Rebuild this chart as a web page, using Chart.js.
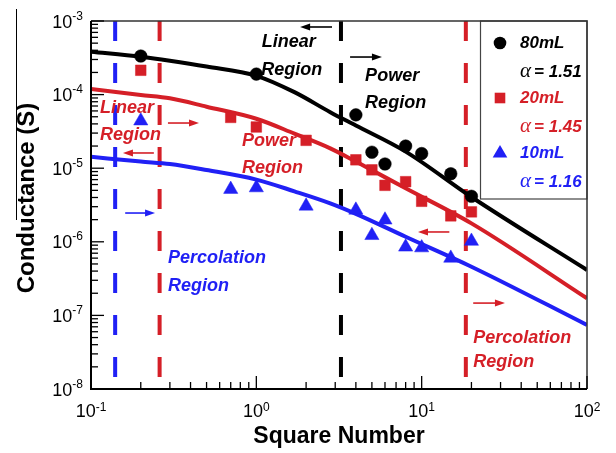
<!doctype html>
<html lang="en">
  <head>
    <meta charset="utf-8">
    <title>Conductance vs Square Number</title>
    <style>
      * {
        margin: 0;
        padding: 0;
      }
      body {
        background: #fff;
      }
      .chartBox {
        width: 616px;
        height: 453px;
      }
    </style>
  </head>
  <body>
    <div class="chartBox">
      <canvas id="myChart" width="616" height="453"></canvas>
    </div>
    <script src="https://cdn.jsdelivr.net/npm/chart.js"></script>
    <script>
    // fit curves
    const fitSquares = [0.1, 0.2, 0.3, 0.5, 1, 1.7, 2.8, 4, 8, 20, 100];
    const fit80 = [3.83e-4, 3.27e-4, 2.89e-4, 2.41e-4, 1.8e-4, 1.08e-4, 5.77e-5, 3.8e-5, 1.68e-5, 4.06e-6, 4.14e-7];
    const fit20 = [1.19e-4, 9.88e-5, 8.9e-5, 6.85e-5, 4.7e-5, 2.95e-5, 1.86e-5, 1.23e-5, 5.33e-6, 1.78e-6, 1.71e-7];
    const fit10 = [1.43e-5, 1.23e-5, 1.14e-5, 9.46e-6, 7.0e-6, 4.85e-6, 3.33e-6, 2.4e-6, 1.17e-6, 4.59e-7, 7.41e-8];

    // measured points
    const squares80 = [0.2, 1, 4, 5, 6, 8, 10, 15, 20];
    const cond80 = [3.34e-4, 1.9e-4, 5.3e-5, 1.65e-5, 1.14e-5, 2.0e-5, 1.58e-5, 8.4e-6, 4.15e-6];
    const squares20 = [0.2, 0.7, 1, 2, 4, 5, 6, 8, 10, 15, 20];
    const cond20 = [2.14e-4, 4.9e-5, 3.63e-5, 2.39e-5, 1.3e-5, 9.5e-6, 5.85e-6, 6.56e-6, 3.55e-6, 2.25e-6, 2.55e-6];
    const squares10 = [0.2, 0.7, 1, 2, 4, 5, 6, 8, 10, 15, 20];
    const cond10 = [4.4e-5, 5.17e-6, 5.43e-6, 3.06e-6, 2.7e-6, 1.22e-6, 1.98e-6, 8.5e-7, 8.3e-7, 6.0e-7, 1.02e-6];

    // region boundaries
    const boundaries = [0.14, 0.26, 3.25, 18.5];

    // axis ticks
    const xDecades = [0.1, 1, 10, 100];
    const xExps = ['-1', '0', '1', '2'];
    const yDecades = [1e-3, 1e-4, 1e-5, 1e-6, 1e-7, 1e-8];
    const yExps = ['-3', '-4', '-5', '-6', '-7', '-8'];

    // legend
    const seriesNames = ['80mL', '20mL', '10mL'];
    const alphaValues = ['1.51', '1.45', '1.16'];

    const RED = '#d51f27';
    const BLUE = '#2020f5';
    const BLACK = '#000000';
    const FONT = "'Liberation Sans', Arial, sans-serif";

    const pts = (xs, ys) => xs.map((x, i) => ({ x: x, y: ys[i] }));

    // text labels and arrows placed in data units
    const notes = [
      { t: 'Linear', x: 1.08, y: 5.19e-4, c: BLACK },
      { t: 'Region', x: 1.07, y: 2.16e-4, c: BLACK },
      { t: 'Power', x: 4.55, y: 1.79e-4, c: BLACK },
      { t: 'Region', x: 4.55, y: 7.69e-5, c: BLACK },
      { t: 'Linear', x: 0.1134, y: 6.58e-5, c: RED },
      { t: 'Region', x: 0.1134, y: 2.83e-5, c: RED },
      { t: 'Power', x: 0.819, y: 2.34e-5, c: RED },
      { t: 'Region', x: 0.819, y: 1.01e-5, c: RED },
      { t: 'Percolation', x: 20.5, y: 4.93e-8, c: RED },
      { t: 'Region', x: 20.5, y: 2.33e-8, c: RED },
      { t: 'Percolation', x: 0.292, y: 6.03e-7, c: BLUE },
      { t: 'Region', x: 0.292, y: 2.51e-7, c: BLUE }
    ];
    const arrows = [
      { from: 2.87, to: 1.84, y: 8.29e-4, c: BLACK },
      { from: 3.69, to: 5.75, y: 3.24e-4, c: BLACK },
      { from: 0.292, to: 0.45, y: 4.11e-5, c: RED },
      { from: 0.24, to: 0.156, y: 1.61e-5, c: RED },
      { from: 14.7, to: 9.5, y: 1.36e-6, c: RED },
      { from: 20.5, to: 31.9, y: 1.47e-7, c: RED },
      { from: 0.161, to: 0.244, y: 2.46e-6, c: BLUE }
    ];

    function drawArrow(ctx, x1, x2, y, color) {
      const dir = Math.sign(x2 - x1);
      ctx.save();
      ctx.strokeStyle = color;
      ctx.fillStyle = color;
      ctx.lineWidth = 1.6;
      ctx.beginPath();
      ctx.moveTo(x1, y);
      ctx.lineTo(x2 - dir * 5, y);
      ctx.stroke();
      ctx.beginPath();
      ctx.moveTo(x2, y);
      ctx.lineTo(x2 - dir * 10, y - 3.5);
      ctx.lineTo(x2 - dir * 10, y + 3.5);
      ctx.closePath();
      ctx.fill();
      ctx.restore();
    }

    // legend box, drawn under the data
    const legendBox = {
      id: 'legendBox',
      beforeDatasetsDraw(chart) {
        const ctx = chart.ctx;
        const a = chart.chartArea;
        const left = a.right - 107, top = a.top;
        ctx.save();
        ctx.fillStyle = '#fff';
        ctx.fillRect(left, top, 107, 178);
        ctx.strokeStyle = '#444';
        ctx.lineWidth = 1.2;
        ctx.strokeRect(left + 0.5, top, 106.5, 178);
        const colors = [BLACK, RED, BLUE];
        const mx = left + 20, tx = left + 40;
        colors.forEach((col, i) => {
          const y1 = top + 22 + i * 55;
          const y2 = y1 + 29;
          ctx.fillStyle = col;
          ctx.beginPath();
          if (i === 0) {
            ctx.arc(mx, y1, 6.3, 0, Math.PI * 2);
          } else if (i === 1) {
            ctx.rect(mx - 5.3, y1 - 5.3, 10.6, 10.6);
          } else {
            ctx.moveTo(mx, y1 - 8);
            ctx.lineTo(mx + 7.3, y1 + 4.5);
            ctx.lineTo(mx - 7.3, y1 + 4.5);
            ctx.closePath();
          }
          ctx.fill();
          ctx.textBaseline = 'middle';
          ctx.textAlign = 'left';
          ctx.font = 'bold italic 17px ' + FONT;
          ctx.fillText(seriesNames[i], tx, y1);
          ctx.font = "italic 21px 'Liberation Serif', 'Times New Roman', serif";
          ctx.fillText('\u03b1', tx, y2 - 1);
          const aw = ctx.measureText('\u03b1').width;
          ctx.font = 'bold italic 17px ' + FONT;
          ctx.fillText('= ' + alphaValues[i], tx + aw + 3, y2);
        });
        ctx.restore();
      }
    };

    // frame, inward ticks, tick labels, titles, annotations
    const decorations = {
      id: 'decorations',
      afterDraw(chart) {
        const ctx = chart.ctx;
        const a = chart.chartArea;
        const xs = chart.scales.x, ys = chart.scales.y;
        ctx.save();

        // stray border line at the left edge of the figure
        ctx.strokeStyle = '#000';
        ctx.lineWidth = 1;
        ctx.beginPath();
        ctx.moveTo(16.5, 9);
        ctx.lineTo(16.5, 220);
        ctx.stroke();

        // frame
        ctx.lineWidth = 1.5;
        ctx.strokeStyle = '#333';
        ctx.beginPath();
        ctx.moveTo(a.left, a.top);
        ctx.lineTo(a.right, a.top);
        ctx.lineTo(a.right, a.bottom);
        ctx.stroke();
        ctx.strokeStyle = '#000';
        ctx.lineWidth = 2;
        ctx.beginPath();
        ctx.moveTo(a.left, a.top);
        ctx.lineTo(a.left, a.bottom);
        ctx.lineTo(a.right, a.bottom);
        ctx.stroke();

        // ticks
        ctx.lineWidth = 1.3;
        xDecades.forEach((d, i) => {
          for (let k = 1; k <= 9; k++) {
            if (i === xDecades.length - 1 && k > 1) break;
            const px = xs.getPixelForValue(d * k);
            const len = k === 1 ? 13 : 7;
            ctx.beginPath();
            ctx.moveTo(px, a.bottom);
            ctx.lineTo(px, a.bottom - len);
            ctx.stroke();
          }
        });
        yDecades.forEach((d, i) => {
          for (let k = 1; k <= 9; k++) {
            if (i === 0 && k > 1) break;
            const py = ys.getPixelForValue(d * k);
            const len = k === 1 ? 13 : 7;
            ctx.beginPath();
            ctx.moveTo(a.left, py);
            ctx.lineTo(a.left + len, py);
            ctx.stroke();
          }
        });

        // tick labels with superscripts
        ctx.fillStyle = '#000';
        ctx.textBaseline = 'alphabetic';
        ctx.textAlign = 'left';
        const bigFont = '18px ' + FONT, supFont = '12px ' + FONT;
        const labelWidth = (e) => {
          ctx.font = bigFont;
          const w1 = ctx.measureText('10').width;
          ctx.font = supFont;
          return [w1, ctx.measureText(e).width];
        };
        yDecades.forEach((d, i) => {
          const py = ys.getPixelForValue(d);
          const [w1, w2] = labelWidth(yExps[i]);
          const x0 = a.left - 8 - w1 - w2;
          ctx.font = bigFont;
          ctx.fillText('10', x0, py + 6.5);
          ctx.font = supFont;
          ctx.fillText(yExps[i], x0 + w1, py - 1.5);
        });
        xDecades.forEach((d, i) => {
          const px = xs.getPixelForValue(d);
          const [w1, w2] = labelWidth(xExps[i]);
          const x0 = px - (w1 + w2) / 2;
          ctx.font = bigFont;
          ctx.fillText('10', x0, a.bottom + 28);
          ctx.font = supFont;
          ctx.fillText(xExps[i], x0 + w1, a.bottom + 22);
        });

        // axis titles
        ctx.textAlign = 'center';
        ctx.textBaseline = 'middle';
        ctx.font = 'bold 23px ' + FONT;
        ctx.fillText('Square Number', (a.left + a.right) / 2, 437);
        ctx.save();
        ctx.translate(27, 198);
        ctx.rotate(-Math.PI / 2);
        ctx.font = 'bold 24px ' + FONT;
        ctx.fillText('Conductance (S)', 0, 0);
        ctx.restore();

        // region notes
        ctx.textAlign = 'left';
        ctx.textBaseline = 'middle';
        ctx.font = 'bold italic 18px ' + FONT;
        notes.forEach(n => {
          ctx.fillStyle = n.c;
          ctx.fillText(n.t, xs.getPixelForValue(n.x), ys.getPixelForValue(n.y));
        });
        arrows.forEach(ar => {
          drawArrow(ctx, xs.getPixelForValue(ar.from), xs.getPixelForValue(ar.to), ys.getPixelForValue(ar.y), ar.c);
        });
        ctx.restore();
      }
    };

    const boundaryColors = [BLUE, RED, BLACK, RED];
    const boundarySets = boundaries.map((bx, i) => ({
      label: 'boundary ' + (i + 1),
      type: 'line',
      data: [{ x: bx, y: 1e-3 }, { x: bx, y: 1.46e-8 }],
      borderColor: boundaryColors[i],
      borderWidth: 4,
      borderDash: [20, 22],
      pointRadius: 0,
      order: 3
    }));

    const fitLine = (ys, color) => ({
      type: 'line',
      data: pts(fitSquares, ys),
      borderColor: color,
      borderWidth: 4,
      pointRadius: 0,
      cubicInterpolationMode: 'monotone',
      fill: false,
      order: 2
    });

    const markers = (xs, ys, color, style, r) => ({
      type: 'scatter',
      data: pts(xs, ys),
      backgroundColor: color,
      borderColor: color,
      pointStyle: style,
      pointRadius: r,
      pointBorderWidth: 0.5,
      showLine: false,
      order: 1
    });

    const data = {
      datasets: [
        markers(squares80, cond80, BLACK, 'circle', 6.3),
        markers(squares20, cond20, RED, 'rect', 7.5),
        markers(squares10, cond10, BLUE, 'triangle', 8.2),
        fitLine(fit80, BLACK),
        fitLine(fit20, RED),
        fitLine(fit10, BLUE)
      ].concat(boundarySets)
    };

    const config = {
      type: 'scatter',
      data,
      options: {
        responsive: false,
        animation: false,
        devicePixelRatio: 1,
        layout: {
          padding: { left: 91, right: 29, top: 21, bottom: 64 }
        },
        plugins: {
          legend: { display: false },
          tooltip: { enabled: false }
        },
        scales: {
          x: {
            type: 'logarithmic',
            min: 0.1,
            max: 100,
            display: false
          },
          y: {
            type: 'logarithmic',
            min: 1e-8,
            max: 1e-3,
            display: false
          }
        }
      },
      plugins: [legendBox, decorations]
    };

    const myChart = new Chart(document.getElementById('myChart'), config);
    </script>
  </body>
</html>
